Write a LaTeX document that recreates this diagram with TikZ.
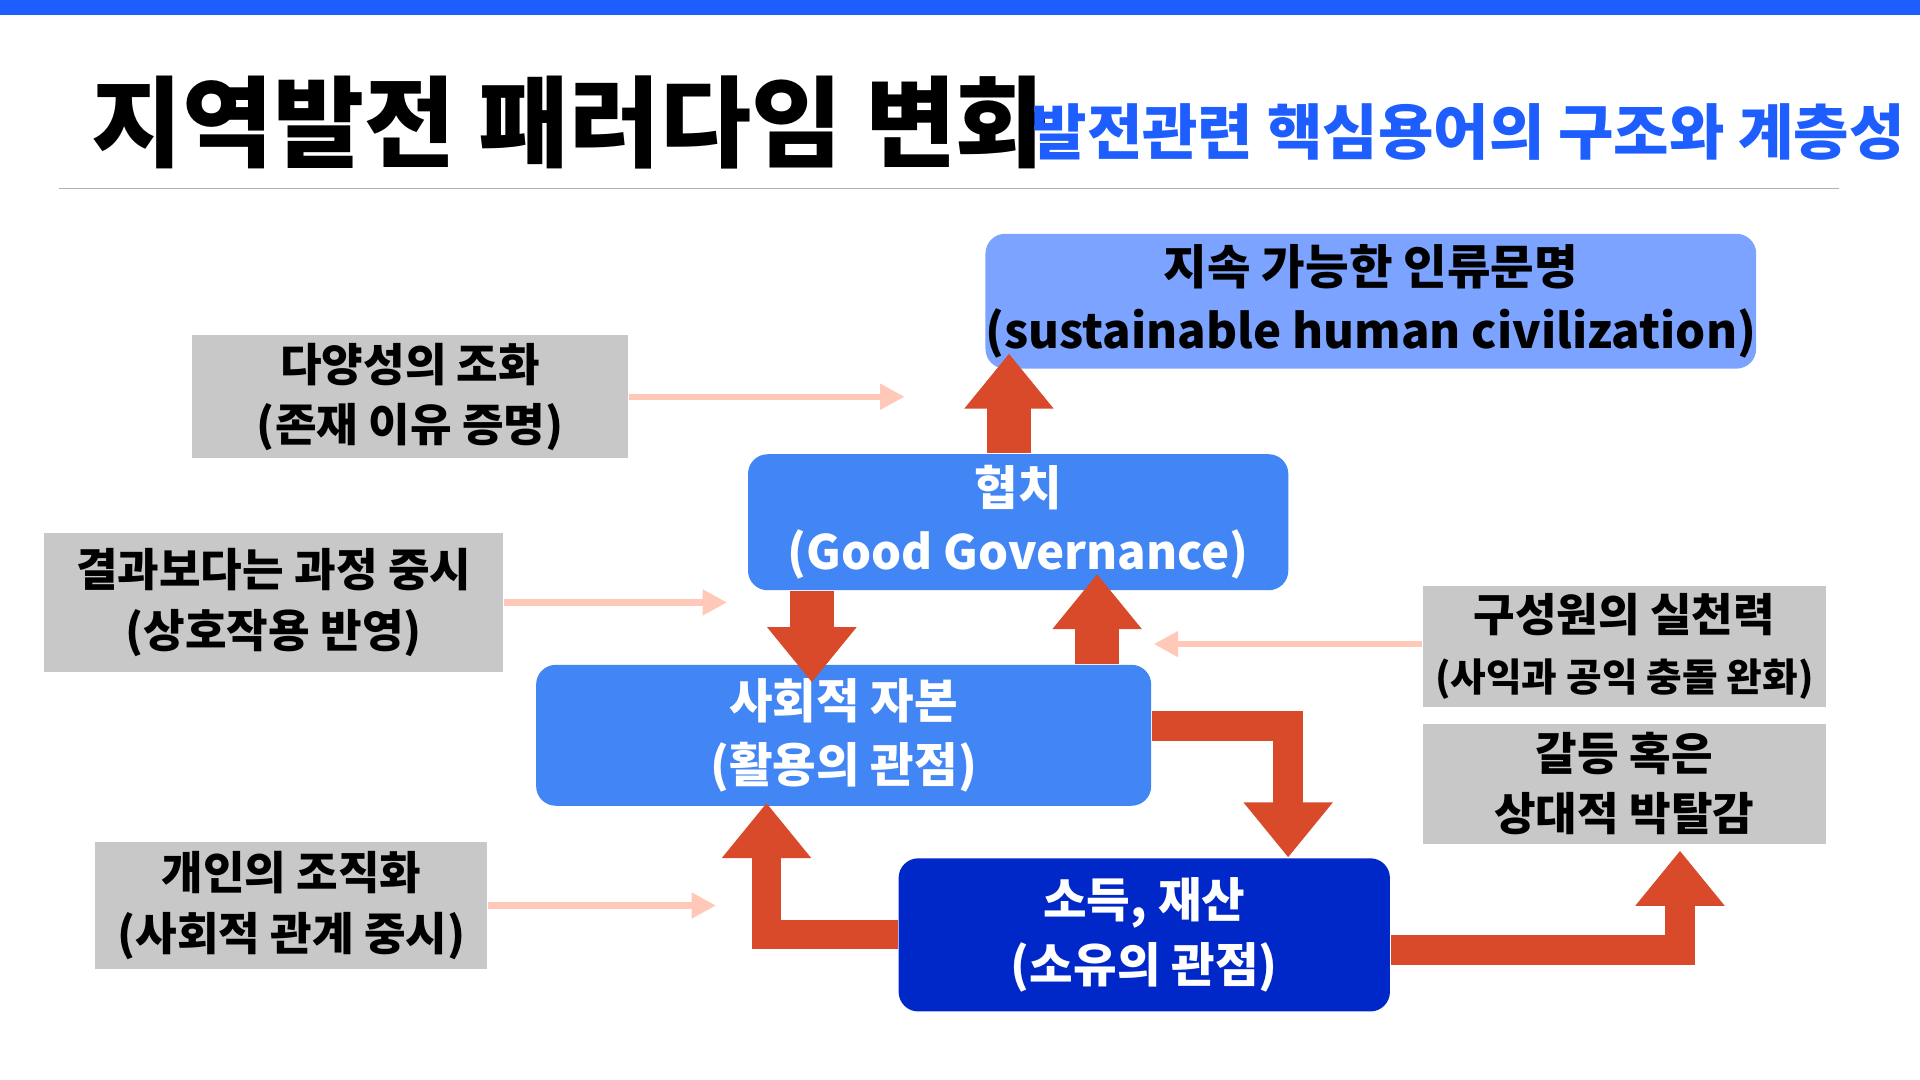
\documentclass[tikz,border=0pt]{standalone}
\usepackage{fontspec}
\setmainfont{Noto Sans CJK KR}
\usetikzlibrary{positioning,calc,arrows.meta}
\definecolor{topbar}{HTML}{1E5EFF}
\definecolor{lightblue}{HTML}{7BA3FF}
\definecolor{midblue}{HTML}{4285F4}
\definecolor{darkblue}{HTML}{0028C8}
\definecolor{graybox}{HTML}{C8C8C8}
\definecolor{pinkline}{HTML}{FFC8B8}
\definecolor{redarrow}{HTML}{D84A2A}
\tikzset{
  keybox/.style={rounded corners=0.16cm, align=center, inner sep=0pt, font=\bfseries\fontsize{11}{15}\selectfont},
  sidebox/.style={fill=graybox, align=center, inner sep=0pt, font=\bfseries\fontsize{10.5}{14}\selectfont},
  thinarrow/.style={draw=pinkline, line width=0.05cm, -{Triangle[length=0.2cm,width=0.2cm]}},
  bigarrow/.style={draw=redarrow, line width=0.36cm, -{Triangle[length=0.45cm,width=0.7cm]}},
  bentarrow/.style={draw=redarrow, line width=0.24cm, -{Triangle[length=0.45cm,width=0.7cm]}}
}
\begin{document}
\begin{tikzpicture}[x=0.01cm, y=-0.01cm]
    \useasboundingbox[fill=white] (0,0) rectangle (1568,882);
    % Header
    \fill[topbar] (0,0) rectangle (1568,12);
    \node[anchor=west, font=\bfseries\fontsize{23}{26}\selectfont] (title) at (62,100) {지역발전 패러다임 변화};
    \node[anchor=west, text=topbar, font=\bfseries\fontsize{14}{17}\selectfont] (subtitle) at (830,108) {발전관련 핵심용어의 구조와 계층성};
    \draw[gray!60] (48,154) -- (1502,154);

    % Key terms
    \node[keybox, fill=lightblue, minimum width=6.27cm, minimum height=1.10cm] (top) at (1119.5,246) {지속 가능한 인류문명\\(sustainable human civilization)};
    \node[keybox, fill=midblue, text=white, minimum width=4.41cm, minimum height=1.11cm] (gov) at (831.5,426.5) {협치\\(Good Governance)};
    \node[keybox, fill=midblue, text=white, minimum width=5.02cm, minimum height=1.15cm] (soc) at (689,600.5) {사회적 자본\\(활용의 관점)};
    \node[keybox, fill=darkblue, text=white, minimum width=4.01cm, minimum height=1.25cm] (inc) at (934.5,763.5) {소득, 재산\\(소유의 관점)};

    % Side notes
    \node[sidebox, minimum width=3.56cm, minimum height=1.00cm] (harmony) at (335,324) {다양성의 조화\\(존재 이유 증명)};
    \node[sidebox, minimum width=3.75cm, minimum height=1.14cm] (process) at (223.5,492) {결과보다는 과정 중시\\(상호작용 반영)};
    \node[sidebox, minimum width=3.29cm, minimum height=0.98cm] (practice) at (1326.5,528) {구성원의 실천력\\{\fontsize{9}{13}\selectfont(사익과 공익 충돌 완화)}};
    \node[sidebox, minimum width=3.29cm, minimum height=0.98cm] (conflict) at (1326.5,640) {갈등 혹은\\상대적 박탈감};
    \node[sidebox, minimum width=3.20cm, minimum height=1.03cm] (organize) at (238,739.5) {개인의 조직화\\(사회적 관계 중시)};

    % Influences
    \draw[thinarrow] (harmony.east) -- ($(harmony.east)+(225,0)$);
    \draw[thinarrow] (process.east) -- ($(process.east)+(182,0)$);
    \draw[thinarrow] ($(practice.west)+(0,-2)$) -- ($(practice.west)+(-219,-2)$);
    \draw[thinarrow] (organize.east) -- ($(organize.east)+(186,0)$);

    % Flows
    \draw[bigarrow] ($(gov.north)+(-7.5,0)$) -- ($(top.south)+(-295.5,-13)$);
    \draw[bigarrow] ($(gov.south)+(-168.5,0)$) -- ($(soc.north)+(-26,15)$);
    \draw[bigarrow] ($(soc.north)+(207,0)$) -- ($(gov.south)+(64.5,-14)$);
    \draw[bentarrow] ($(soc.east)+(0,-7.5)$) -| ($(inc.north)+(117.5,0)$);
    \draw[bentarrow] ($(inc.west)+(0,-0.5)$) -| ($(soc.south)+(-63,-3)$);
    \draw[bentarrow] ($(inc.east)+(0,12.5)$) -| ($(conflict.south)+(45.5,5)$);
\end{tikzpicture}
\end{document}
